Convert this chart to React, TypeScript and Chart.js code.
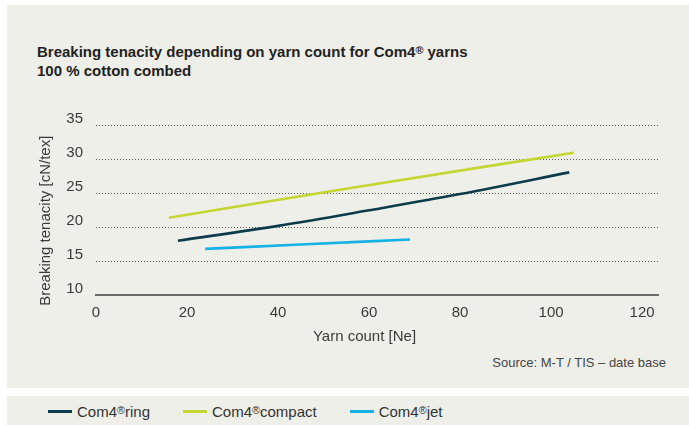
import React, { useEffect, useRef } from 'react';
import { Chart, registerables } from 'chart.js';

Chart.register(...registerables);

// ---- data ----
const seriesNames = ['Com4®ring', 'Com4®compact', 'Com4®jet'];
const seriesColors = ['#0c3c4c', '#c3d730', '#15b2e6'];

const ringCount = [18, 40, 60, 80, 104];
const ringTenacity = [18.0, 20.2, 22.5, 24.9, 28.1];

const compactCount = [16, 56, 105];
const compactTenacity = [21.4, 25.8, 31.0];

const jetCount = [24, 45, 69];
const jetTenacity = [16.8, 17.45, 18.2];

const xTickStep = 20;
const yTickStep = 5;
const xMin = 0;
const xMax = 123.5;
const yMin = 10;
const yMax = 35;

const chartTitle = ['Breaking tenacity depending on yarn count for Com4® yarns', '100 % cotton combed'];
const xTitle = 'Yarn count [Ne]';
const yTitle = 'Breaking tenacity [cN/tex]';
const sourceNote = 'Source: M-T / TIS – date base';

// ---- style ----
const FONT = "'Liberation Sans', Arial, sans-serif";
const PANEL = '#efefea';
const TEXT = '#3a3a3a';

const toPoints = (xs: number[], ys: number[]) => xs.map((x, i) => ({ x, y: ys[i] }));

function withReg(s: string) {
  const parts = s.split('®');
  return parts.map((p, i) => (
    <React.Fragment key={i}>
      {p}
      {i < parts.length - 1 && (
        <span style={{ fontSize: '0.72em', verticalAlign: '0.32em', lineHeight: 0 }}>®</span>
      )}
    </React.Fragment>
  ));
}

export default function App() {
  const ref = useRef<HTMLCanvasElement>(null);

  useEffect(() => {
    const seriesData = [
      toPoints(ringCount, ringTenacity),
      toPoints(compactCount, compactTenacity),
      toPoints(jetCount, jetTenacity),
    ];
    const chart = new Chart(ref.current as HTMLCanvasElement, {
      type: 'line',
      data: {
        datasets: seriesNames.map((name, i) => ({
          label: name,
          data: seriesData[i],
          borderColor: seriesColors[i],
          backgroundColor: seriesColors[i],
          borderWidth: 2.6,
          pointRadius: 0,
          cubicInterpolationMode: 'monotone' as const,
          borderCapStyle: 'butt' as const,
        })),
      },
      options: {
        animation: false,
        responsive: false,
        devicePixelRatio: 1,
        layout: { padding: { left: 0, right: 31, top: 25, bottom: 0 } },
        plugins: {
          legend: { display: false },
          tooltip: { enabled: false },
          title: { display: false },
        },
        scales: {
          x: {
            type: 'linear',
            min: xMin,
            max: xMax,
            afterFit: (s: any) => {
              s.height = 57;
            },
            grid: { display: false, drawTicks: false },
            border: { display: true, color: '#6b6b6b', width: 2 },
            ticks: {
              stepSize: xTickStep,
              includeBounds: false,
              padding: 9,
              color: TEXT,
              font: { family: FONT, size: 15 },
            },
            title: {
              display: true,
              text: xTitle + '      ',
              color: TEXT,
              font: { family: FONT, size: 15 },
              padding: { top: 0, bottom: 6.5 },
            },
          },
          y: {
            type: 'linear',
            min: yMin,
            max: yMax,
            afterFit: (s: any) => {
              s.width = 89;
            },
            grid: {
              drawTicks: false,
              lineWidth: 1,
              color: (ctx: any) => (ctx.tick && ctx.tick.value === yMin ? 'rgba(0,0,0,0)' : '#555555'),
            },
            border: { display: false, dash: [1, 2] },
            ticks: {
              stepSize: yTickStep,
              padding: 13,
              color: TEXT,
              font: { family: FONT, size: 15, lineHeight: 0.84 },
              callback: (v: any) => [String(v), ''],
            },
            title: {
              display: true,
              text: yTitle + '     ',
              color: TEXT,
              font: { family: FONT, size: 15 },
              padding: { top: 30, bottom: 0 },
            },
          },
        },
      },
    });
    return () => chart.destroy();
  }, []);

  return (
    <div
      style={{
        position: 'absolute',
        left: 0,
        top: 0,
        width: 689,
        height: 425,
        background: '#ffffff',
        overflow: 'hidden',
        fontFamily: FONT,
      }}
    >
      <div style={{ position: 'absolute', left: 7, top: 5, width: 682, height: 383, background: PANEL }} />
      <div style={{ position: 'absolute', left: 7, top: 396, width: 682, height: 29, background: PANEL }} />
      <div
        style={{
          position: 'absolute',
          left: 37,
          top: 42,
          fontWeight: 'bold',
          fontSize: 15,
          lineHeight: '19px',
          color: '#222222',
          whiteSpace: 'nowrap',
        }}
      >
        {chartTitle.map((l, i) => (
          <div key={i}>{withReg(l)}</div>
        ))}
      </div>
      <canvas
        ref={ref}
        width={682}
        height={252}
        style={{ position: 'absolute', left: 7, top: 100, width: 682, height: 252, display: 'block' }}
      />
      <div
        style={{
          position: 'absolute',
          right: 23,
          top: 355,
          fontSize: 13,
          lineHeight: '15px',
          color: '#444444',
          whiteSpace: 'nowrap',
        }}
      >
        {sourceNote}
      </div>
      <div
        style={{
          position: 'absolute',
          left: 48,
          top: 404,
          display: 'flex',
          alignItems: 'center',
          gap: 33,
          fontSize: 15,
          lineHeight: '15px',
          color: '#333333',
          whiteSpace: 'nowrap',
        }}
      >
        {seriesNames.map((n, i) => (
          <div key={n} style={{ display: 'flex', alignItems: 'center' }}>
            <span
              style={{ display: 'inline-block', width: 24, height: 3, background: seriesColors[i], marginRight: 5 }}
            />
            <span>{withReg(n)}</span>
          </div>
        ))}
      </div>
    </div>
  );
}
